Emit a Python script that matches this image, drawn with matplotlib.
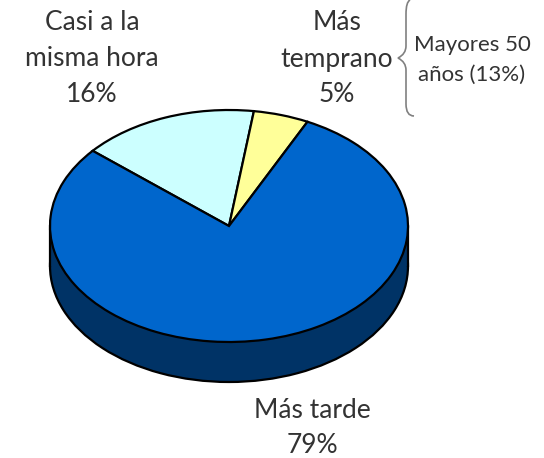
import matplotlib.pyplot as plt
from matplotlib.patches import PathPatch, Rectangle
from matplotlib.path import Path
from matplotlib.transforms import Affine2D

labels = ['Casi a la\nmisma hora\n16%', 'Más\ntemprano\n5%', 'Más tarde\n79%']
values = [16, 5, 79]
top_colors = ['#CCFFFF', '#FFFF99', '#0066CC']
side_color = '#003366'
note = 'Mayores 50\naños (13%)'

W, H = 544, 458
cx, cy = 229, 226
rx, ry = 179, 116
depth = 40 / ry

plt.rcParams['font.family'] = ['Lato', 'DejaVu Sans']

fig = plt.figure(figsize=(W / 100, H / 100), dpi=100)
ax = fig.add_axes([0, 0, 1, 1])
wp = {'edgecolor': 'black', 'linewidth': 1.6}

# side of the pie first, then the top on it
ax.pie([1], colors=[side_color], center=(0, -depth), wedgeprops=wp)
ax.add_patch(Rectangle((-1, -depth), 2, depth, fc=side_color, ec='none', zorder=2))
ax.plot([-1, -1], [0, -depth], color='black', lw=1.6, zorder=3)
ax.plot([1, 1], [0, -depth], color='black', lw=1.6, zorder=3)
wedges, _ = ax.pie(values, colors=top_colors, startangle=90 + 49.6, counterclock=False,
                   wedgeprops=wp)
for w in wedges:
    w.set_zorder(4)

ax.set_aspect('auto')
ax.set_xlim(-cx / rx, (W - cx) / rx)
ax.set_ylim((cy - H) / ry, cy / ry)
ax.axis('off')

# labels in pixel positions
px = Affine2D().scale(1, -1).translate(0, H)
ax.text(92, 59, labels[0], transform=px, ha='center', va='center', fontsize=19,
        linespacing=1.55, color='#333333')
ax.text(337, 59, labels[1], transform=px, ha='center', va='center', fontsize=19,
        linespacing=1.55, color='#333333')
ax.text(312, 428, labels[2], transform=px, ha='center', va='center', fontsize=19,
        linespacing=1.5, color='#333333')
ax.text(472, 60, note, transform=px, ha='center', va='center', fontsize=16,
        linespacing=1.65, color='#333333')

# brace
verts = [(410, 0), (406, 2), (406, 14), (406, 46), (406, 54), (398, 58),
         (406, 62), (406, 70), (406, 104), (406, 116), (414, 116)]
codes = [Path.MOVETO, Path.CURVE3, Path.CURVE3, Path.LINETO, Path.CURVE3, Path.CURVE3,
         Path.CURVE3, Path.CURVE3, Path.LINETO, Path.CURVE3, Path.CURVE3]
ax.add_patch(PathPatch(Path(verts, codes), transform=px, fc='none', ec='#808080', lw=1.2))

fig.savefig('out.png', dpi=100)
